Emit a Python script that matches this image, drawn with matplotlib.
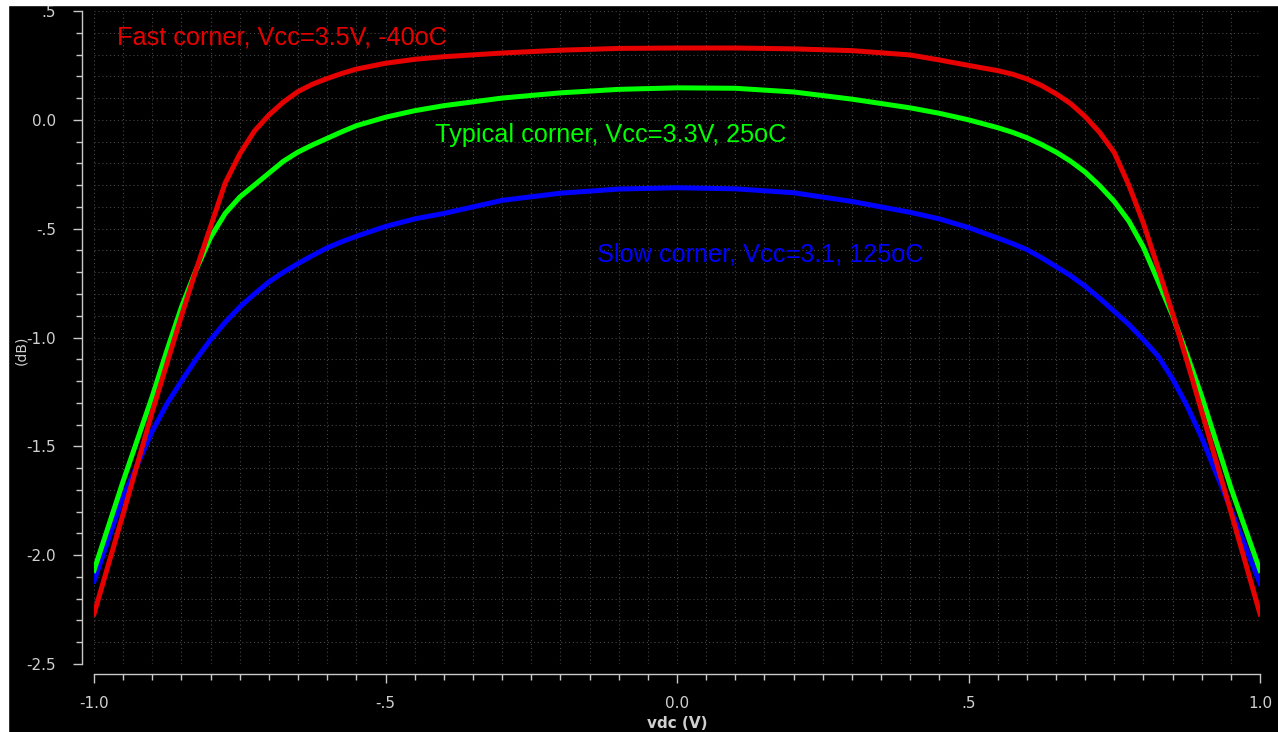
import numpy as np
import matplotlib
matplotlib.use("Agg")
import matplotlib.pyplot as plt
from matplotlib.patches import Rectangle
from matplotlib.ticker import MultipleLocator, FuncFormatter

# sweep points (V)
vdc = [-1.0, -0.95, -0.9, -0.875, -0.85, -0.825, -0.8, -0.775, -0.75, -0.725, -0.7,
       -0.675, -0.65, -0.625, -0.6, -0.575, -0.55, -0.5, -0.45, -0.4, -0.3, -0.2,
       -0.1, 0.0, 0.1, 0.2, 0.3, 0.4, 0.45, 0.5, 0.55, 0.575, 0.6, 0.625, 0.65,
       0.675, 0.7, 0.725, 0.75, 0.775, 0.8, 0.825, 0.85, 0.875, 0.9, 0.95, 1.0]

# gain (dB) for each corner
fast = [-2.27, -1.81, -1.34, -1.12, -0.90, -0.69, -0.49, -0.29, -0.157, -0.052, 0.022,
        0.082, 0.13, 0.164, 0.19, 0.213, 0.233, 0.26, 0.278, 0.29, 0.307, 0.32,
        0.328, 0.33, 0.33, 0.326, 0.318, 0.298, 0.275, 0.25, 0.226, 0.21, 0.188, 0.158, 0.12,
        0.075, 0.015, -0.058, -0.15, -0.30, -0.475, -0.68, -0.89, -1.11, -1.34, -1.80, -2.27]
typical = [-2.07, -1.66, -1.27, -1.06, -0.86, -0.69, -0.54, -0.43, -0.355, -0.30, -0.245,
           -0.19, -0.148, -0.115, -0.085, -0.055, -0.027, 0.012, 0.042, 0.065, 0.10, 0.124,
           0.14, 0.147, 0.145, 0.128, 0.095, 0.055, 0.03, 0.0, -0.036, -0.057, -0.082, -0.113, -0.148,
           -0.19, -0.24, -0.303, -0.375, -0.465, -0.585, -0.74, -0.90, -1.08, -1.27, -1.69, -2.07]
slow = [-2.12, -1.73, -1.43, -1.305, -1.20, -1.10, -1.01, -0.93, -0.86, -0.80, -0.745,
        -0.70, -0.66, -0.623, -0.588, -0.56, -0.535, -0.49, -0.455, -0.43, -0.37, -0.337,
        -0.318, -0.312, -0.317, -0.335, -0.375, -0.425, -0.455, -0.495, -0.543, -0.568, -0.596, -0.633, -0.674,
        -0.716, -0.764, -0.82, -0.88, -0.94, -1.01, -1.085, -1.19, -1.315, -1.46, -1.79, -2.13]

labels = ["Fast corner, Vcc=3.5V, -40oC",
          "Typical corner, Vcc=3.3V, 25oC",
          "Slow corner, Vcc=3.1, 125oC"]
colors = ["#e60000", "#00ff00", "#0000ff"]

W, H = 1278, 732
fig = plt.figure(figsize=(W / 100, H / 100), dpi=100, facecolor="black")
ax = fig.add_axes([94 / W, 1 - 664 / H, (1260 - 94) / W, (664 - 11) / H])
ax.set_facecolor("black")

# white border strips on the left and top
fig.add_artist(Rectangle((0, 0), 8 / W, 1, transform=fig.transFigure,
                         color="white", zorder=10))
fig.add_artist(Rectangle((0, 1 - 5 / H), 1, 5 / H, transform=fig.transFigure,
                         color="white", zorder=10))

ax.plot(vdc, slow, color=colors[2], lw=3.6, solid_joinstyle="round", zorder=3)
ax.plot(vdc, typical, color=colors[1], lw=3.6, solid_joinstyle="round", zorder=4)
ax.plot(vdc, fast, color=colors[0], lw=3.6, solid_joinstyle="round", zorder=5)

ax.set_xlim(-1.0, 1.0)
ax.set_ylim(-2.5, 0.5)

ax.xaxis.set_major_locator(MultipleLocator(0.5))
ax.xaxis.set_minor_locator(MultipleLocator(0.05))
ax.yaxis.set_major_locator(MultipleLocator(0.5))
ax.yaxis.set_minor_locator(MultipleLocator(0.1))


def fmt(v, pos):
    s = "%.1f" % v
    if s in ("-0.0", "0.0"):
        return "0.0"
    return s.replace("0.", ".", 1) if abs(v) < 1 else s


ax.xaxis.set_major_formatter(FuncFormatter(fmt))
ax.yaxis.set_major_formatter(FuncFormatter(fmt))

ax.grid(which="both", color="#454545", linestyle=(0, (1, 2.5)), linewidth=0.8)
ax.set_axisbelow(True)

for side in ("top", "right"):
    ax.spines[side].set_visible(False)
ax.spines["left"].set_position(("outward", 8.6))
ax.spines["bottom"].set_position(("outward", 7.2))
for side in ("left", "bottom"):
    ax.spines[side].set_color("#c8c8c8")
    ax.spines[side].set_linewidth(1.0)

ax.tick_params(which="major", colors="#c8c8c8", length=6.5, width=1.0,
               labelsize=11, labelcolor="#d0d0d0")
ax.tick_params(which="minor", colors="#c8c8c8", length=4, width=1.0)
ax.tick_params(axis="y", which="major", pad=12)
ax.tick_params(axis="x", which="major", pad=9)

ax.set_ylabel("(dB)", color="#d0d0d0", fontsize=10)
ax.yaxis.set_label_coords(-66 / (1260 - 94), 0.48)
ax.set_xlabel("vdc (V)", color="#d0d0d0", fontsize=11, fontweight="bold")
ax.xaxis.set_label_coords(0.5, -(716 - 664) / (664 - 11))

# curve annotations
ax.text(-0.9605, 0.376, labels[0], color=colors[0], fontsize=18.2,
        family="Liberation Sans", va="center", ha="left")
ax.text(-0.415, -0.069, labels[1], color=colors[1], fontsize=18.2,
        family="Liberation Sans", va="center", ha="left")
ax.text(-0.137, -0.619, labels[2], color=colors[2], fontsize=18.2,
        family="Liberation Sans", va="center", ha="left")

fig.savefig("out.png", dpi=100, facecolor=fig.get_facecolor())
